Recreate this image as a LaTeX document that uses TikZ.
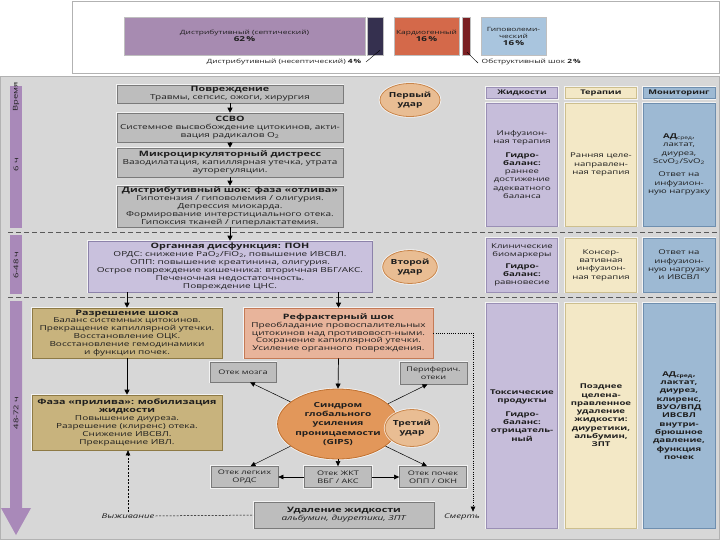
\documentclass[tikz,border=0pt]{standalone}
\usepackage{fontspec}
\setmainfont{Open Sans}[FakeStretch=1.45]
\usetikzlibrary{arrows.meta,shapes.geometric}
\definecolor{bgc}{HTML}{D7D7D7}
\definecolor{boxg}{HTML}{BDBDBD}
\definecolor{boxgd}{HTML}{7A7A7A}
\definecolor{ponc}{HTML}{C9C1DD}
\definecolor{pond}{HTML}{8C82AA}
\definecolor{khaki}{HTML}{C8B37D}
\definecolor{khakid}{HTML}{8E7A45}
\definecolor{refrc}{HTML}{E8B49B}
\definecolor{refrd}{HTML}{C47A56}
\definecolor{gipsc}{HTML}{E2975A}
\definecolor{gipsd}{HTML}{C0702F}
\definecolor{udarc}{HTML}{E9BD93}
\definecolor{udard}{HTML}{C9854A}
\definecolor{colj}{HTML}{C6BDDA}
\definecolor{coljd}{HTML}{9A8FB5}
\definecolor{colt}{HTML}{F3E8C6}
\definecolor{coltd}{HTML}{CDBF8E}
\definecolor{colm}{HTML}{9DB9D3}
\definecolor{colmd}{HTML}{6F8FAF}
\definecolor{tbar}{HTML}{A989B9}
\definecolor{sept}{HTML}{A78BB1}
\definecolor{nsept}{HTML}{35304F}
\definecolor{cardio}{HTML}{D4694A}
\definecolor{obstr}{HTML}{7A1F22}
\definecolor{hypo}{HTML}{A9C5DE}
\definecolor{txt}{HTML}{1E1E1E}
\newcommand\mytitle{\fontsize{7.4}{8.6}\selectfont\bfseries}
\newcommand\mysub{\fontsize{6.9}{7.9}\selectfont}
\begin{document}
\begin{tikzpicture}[x=1pt,y=-1pt,
  glow/.style={preaction={draw=white, line width=2.5pt, draw opacity=0.7}},
  base/.style={align=center, text=txt, inner sep=1pt},
  flow/.style={base, glow, draw=boxgd, fill=boxg, line width=0.6pt, font=\mysub},
  small/.style={base, glow, draw=boxgd, fill=boxg, line width=0.6pt, font=\fontsize{6.3}{7.6}\selectfont},
  udar/.style={ellipse, base, glow, draw=udard, fill=udarc, line width=0.8pt, font=\fontsize{7}{9.5}\selectfont\bfseries, inner sep=0pt},
  colbox/.style={base, glow, line width=0.5pt, font=\fontsize{6.6}{8.3}\selectfont},
  hdr/.style={base, glow, line width=0.5pt, font=\fontsize{6.4}{7}\selectfont\bfseries, inner sep=0pt},
  bar/.style={base, glow, draw=gray!50, line width=0.4pt, font=\fontsize{5.8}{7}\selectfont},
  lbl/.style={base, font=\fontsize{5.8}{7}\selectfont, inner sep=0.5pt},
  tlab/.style={base, font=\fontsize{6.5}{7}\selectfont, inner sep=0pt},
  arr/.style={-{Triangle[length=5pt,width=5pt]}, line width=0.7pt, draw=black},
  arr2/.style={-{Triangle[length=5pt,width=4.5pt]}, line width=0.5pt, draw=black},
  dline/.style={draw=gray!70!black, dash pattern=on 5pt off 3pt, line width=0.6pt}]
\useasboundingbox (0,0) rectangle (720,540);
% top panel
\fill[white] (0,0) rectangle (720,76);
\draw[gray!60, line width=0.8pt] (72,1) rectangle (719,73);
\node[bar, fill=sept, minimum width=241, minimum height=38] (sept) at (244.5,36) {Дистрибутивный (септический)\\{\fontsize{6.8}{8}\selectfont\bfseries 62\,\%}};
\node[bar, fill=nsept, minimum width=16, minimum height=38] (nsept) at (375,36) {};
\node[bar, fill=cardio, minimum width=65, minimum height=38] (cardio) at (426.5,36) {Кардиогенный\\{\fontsize{6.8}{8}\selectfont\bfseries 16\,\%}};
\node[bar, fill=obstr, minimum width=8, minimum height=38] (obstr) at (466,36) {};
\node[bar, fill=hypo, minimum width=65, minimum height=38] (hypo) at (513.5,36) {Гиповолеми-\\ческий\\{\fontsize{6.8}{8}\selectfont\bfseries 16\,\%}};
\node[lbl, anchor=east] (nslab) at (362,62) {Дистрибутивный (несептический) \textbf{4\,\%}};
\node[lbl, anchor=west] (oblab) at (481,62) {Обструктивный шок \textbf{2\,\%}};
\draw[line width=0.4pt] ([xshift=4pt]nslab.east) -- ([xshift=5pt,yshift=5pt]nsept.south);
\draw[line width=0.4pt] ([xshift=1pt,yshift=3pt]obstr.south) -- ([xshift=-3pt,yshift=-1pt]oblab.west);
% main panel
\fill[bgc] (0,76) rectangle (720,540);
\draw[gray!60, line width=0.8pt] (0.5,76) rectangle (719.5,539.5);
% time bar
\fill[tbar] (10,86) rectangle (22,228);
\fill[tbar] (10,235) rectangle (22,294);
\fill[tbar] (10,301) -- (22,301) -- (22,508) -- (31,508) -- (16,535) -- (1,508) -- (10,508) -- cycle;
\node[tlab, rotate=90] (t0) at (16,97) {Время};
\node[tlab, rotate=90] (t1) at (16,165) {6 ч};
\node[tlab, rotate=90] (t2) at (16,265) {6-48 ч};
\node[tlab, rotate=90] (t3) at (16,413) {48-72 ч};
% dashed separators
\draw[dline] (8,232) -- (720,232);
\draw[dline] (8,297) -- (720,297);
% flow
\node[flow, minimum width=226, minimum height=18] (povr) at (230,94) {{\mytitle Повреждение}\\Травмы, сепсис, ожоги, хирургия};
\node[flow, minimum width=226, minimum height=29] (ssvo) at (230,127.5) {{\mytitle ССВО}\\Системное высвобождение цитокинов, акти-\\вация радикалов O\textsubscript{2}};
\node[flow, minimum width=226, minimum height=29] (micro) at (230,162.5) {{\mytitle Микроциркуляторный дистресс}\\Вазодилатация, капиллярная утечка, утрата\\ауторегуляции.};
\node[flow, minimum width=226, minimum height=39] (distr) at (230,206.5) {{\mytitle Дистрибутивный шок: фаза «отлива»}\\Гипотензия / гиповолемия / олигурия.\\Депрессия миокарда.\\Формирование интерстициального отека.\\Гипоксия тканей / гиперлактатемия.};
\node[flow, fill=ponc, draw=pond, minimum width=284, minimum height=51] (pon) at (230,266.5) {{\mytitle Органная дисфункция: ПОН}\\ОРДС: снижение PaO\textsubscript{2}/FiO\textsubscript{2}, повышение ИВСВЛ.\\ОПП: повышение креатинина, олигурия.\\Острое повреждение кишечника: вторичная ВБГ/АКС.\\Печеночная недостаточность.\\Повреждение ЦНС.};
\draw[arr] (povr.south) -- (ssvo.north);
\draw[arr] (ssvo.south) -- (micro.north);
\draw[arr] (micro.south) -- (distr.north);
\draw[arr] (distr.south) -- (pon.north);
\node[udar, minimum width=54, minimum height=33] (first) at (410,100) {Первый\\удар};
\node[udar, minimum width=54, minimum height=33] (second) at (410,267) {Второй\\удар};
% lower part
\node[flow, fill=khaki, draw=khakid, minimum width=190, minimum height=50] (resol) at (127,333) {{\mytitle Разрешение шока}\\Баланс системных цитокинов.\\Прекращение капиллярной утечки.\\Восстановление ОЦК.\\Восстановление гемодинамики\\и функции почек.};
\node[flow, fill=khaki, draw=khakid, minimum width=190, minimum height=55] (phase) at (127,422.5) {{\mytitle Фаза «прилива»: мобилизация}\\{\mytitle жидкости}\\Повышение диуреза.\\Разрешение (клиренс) отека.\\Снижение ИВСВЛ.\\Прекращение ИВЛ.};
\node[flow, fill=refrc, draw=refrd, minimum width=189, minimum height=50] (refr) at (338.5,333) {{\mytitle Рефрактерный шок}\\Преобладание провоспалительных\\цитокинов над противовосп-ными.\\Сохранение капиллярной утечки.\\Усиление органного повреждения.};
\draw[arr] (pon.south -| resol.north) -- (resol.north);
\draw[arr] (pon.south -| refr.north) -- (refr.north);
\draw[arr] (resol.south) -- (phase.north);
\node[ellipse, base, glow, draw=gipsd, fill=gipsc, line width=0.8pt, inner sep=0pt, minimum width=106, minimum height=70, font=\fontsize{7}{9.2}\selectfont\bfseries] (gips) at (338,424) {Синдром\\глобального\\усиления\\проницаемости\\(GIPS)};
\node[udar, minimum width=45, minimum height=37] (third) at (412,428) {Третий\\удар};
\draw[arr] (refr.south) -- (gips.north);
\node[small, minimum width=66, minimum height=20] (mozg) at (243,372) {Отек мозга};
\node[small, minimum width=67, minimum height=22] (perif) at (433.5,373) {Периферич.\\отеки};
\node[small, minimum width=67, minimum height=21] (lung) at (244.5,477) {Отек легких\\ОРДС};
\node[small, minimum width=67, minimum height=21] (gi) at (338,477) {Отек ЖКТ\\ВБГ / АКС};
\node[small, minimum width=67, minimum height=21] (kid) at (433,477) {Отек почек\\ОПП / ОКН};
\draw[arr2] (gips.155) -- ([xshift=7pt]mozg.south);
\draw[arr2] (gips.22) -- ([xshift=-6pt]perif.south);
\draw[arr2] (gips.205) -- ([xshift=6pt]lung.north);
\draw[arr2] (gips.335) -- ([xshift=-6pt]kid.north);
\draw[arr2] (gips.south) -- (gi.north);
\draw[arr2] (gi.west) -- (lung.east);
\draw[arr2] (gi.east) -- (kid.west);
\node[flow, minimum width=180, minimum height=26] (udal) at (344,515) {{\mytitle Удаление жидкости}\\\textit{альбумин, диуретики, ЗПТ}};
\node[base, font=\fontsize{6.6}{8}\selectfont\itshape] (surv) at (128,516) {Выживание};
\node[base, font=\fontsize{6.6}{8}\selectfont\itshape] (death) at (462,517) {Смерть};
\draw[arr2, dash pattern=on 2pt off 1.5pt] (surv.north) -- (surv.north |- phase.south);
\draw[line width=0.5pt, dash pattern=on 2pt off 1.5pt] (surv.east) -- (udal.west);
\draw[arr2, dash pattern=on 1pt off 1.2pt] (refr.east) -| ([xshift=11pt,yshift=1pt]death.north);
% right columns
\node[hdr, fill=colj, draw=coljd, minimum width=71, minimum height=11] (hj) at (522,93) {Жидкости};
\node[hdr, fill=colt, draw=coltd, minimum width=71, minimum height=11] (ht) at (601,93) {Терапии};
\node[hdr, fill=colm, draw=colmd, minimum width=72, minimum height=11] (hm) at (679,93) {Мониторинг};
\node[colbox, fill=colj, draw=coljd, minimum width=71, minimum height=123] (j1) at (522,164.5) {Инфузион-\\ная терапия\\[5pt]\textbf{Гидро-}\\\textbf{баланс:}\\раннее\\достижение\\адекватного\\баланса};
\node[colbox, fill=colt, draw=coltd, minimum width=71, minimum height=123] (t1) at (601,164.5) {Ранняя целе-\\направлен-\\ная терапия};
\node[colbox, fill=colm, draw=colmd, minimum width=72, minimum height=123] (m1) at (679,164.5) {\textbf{АД}\textsubscript{сред},\\лактат,\\диурез,\\ScvO\textsubscript{2}/SvO\textsubscript{2}\\[5pt]Ответ на\\инфузион-\\ную нагрузку};
\node[colbox, fill=colj, draw=coljd, minimum width=71, minimum height=54] (j2) at (522,265) {Клинические\\биомаркеры\\[3pt]\textbf{Гидро-}\\\textbf{баланс:}\\равновесие};
\node[colbox, fill=colt, draw=coltd, minimum width=71, minimum height=54] (t2) at (601,265) {Консер-\\вативная\\инфузион-\\ная терапия};
\node[colbox, fill=colm, draw=colmd, minimum width=72, minimum height=54] (m2) at (679,265) {Ответ на\\инфузион-\\ную нагрузку\\и ИВСВЛ};
\node[colbox, fill=colj, draw=coljd, minimum width=71, minimum height=225, font=\fontsize{6.6}{8.3}\selectfont\bfseries] (j3) at (522,415.5) {Токсические\\продукты\\[5pt]Гидро-\\баланс:\\отрицатель-\\ный};
\node[colbox, fill=colt, draw=coltd, minimum width=71, minimum height=225, font=\fontsize{6.6}{8.3}\selectfont\bfseries] (t3) at (601,415.5) {Позднее\\целена-\\правленное\\удаление\\жидкости:\\диуретики,\\альбумин,\\ЗПТ};
\node[colbox, fill=colm, draw=colmd, minimum width=72, minimum height=225, font=\fontsize{6.6}{8.3}\selectfont\bfseries] (m3) at (679,415.5) {АД\textsubscript{сред},\\лактат,\\диурез,\\клиренс,\\ВУО/ВПД\\ИВСВЛ\\внутри-\\брюшное\\давление,\\функция\\почек};
\end{tikzpicture}
\end{document}
